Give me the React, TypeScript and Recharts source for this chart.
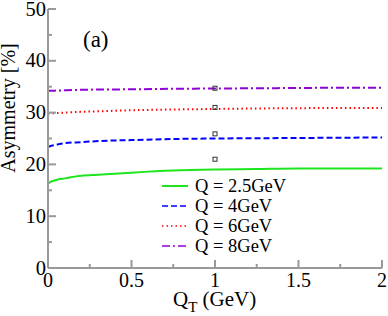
import { ComposedChart, Line, Scatter, XAxis, YAxis } from 'recharts';

// Q_T (GeV) sample points and asymmetry [%]
const qt = [0, 0.02, 0.05, 0.1, 0.2, 0.3, 0.5, 0.75, 1, 1.25, 1.5, 1.75, 2];
const q25 = [16.3, 16.7, 17.0, 17.3, 17.8, 18.0, 18.4, 18.8, 19.0, 19.1, 19.2, 19.2, 19.2];
const q4 = [23.4, 23.6, 23.8, 24.1, 24.3, 24.5, 24.7, 24.9, 25.0, 25.05, 25.1, 25.15, 25.2];
const q6 = [29.8, 29.85, 29.9, 30.0, 30.15, 30.25, 30.45, 30.6, 30.7, 30.8, 30.85, 30.9, 30.9];
const q8 = [34.2, 34.2, 34.25, 34.3, 34.4, 34.45, 34.5, 34.6, 34.65, 34.7, 34.75, 34.8, 34.8];

// open squares at Q_T = 1
const markX = [1, 1, 1, 1];
const markY = [34.7, 31.0, 25.9, 21.0];

const seriesNames = ['Q = 2.5GeV', 'Q = 4GeV', 'Q = 6GeV', 'Q = 8GeV'];
const xTicks = [0, 0.25, 0.5, 0.75, 1, 1.25, 1.5, 1.75, 2];
const yTicks = [0, 5, 10, 15, 20, 25, 30, 35, 40, 45, 50];

const toRows = (ys: number[]) => qt.map((x, i) => ({ x, y: ys[i] }));

const series = [
  { name: seriesNames[0], data: toRows(q25), color: '#1ee61e', dash: undefined },
  { name: seriesNames[1], data: toRows(q4), color: '#0000ff', dash: '6 3' },
  { name: seriesNames[2], data: toRows(q6), color: '#ff0000', dash: '1.5 3' },
  { name: seriesNames[3], data: toRows(q8), color: '#9400d3', dash: '8 3 2 3' },
];

const marks = markX.map((x, i) => ({ x, y: markY[i] }));

const FONT = '"Liberation Serif", "Times New Roman", serif';
const AXIS = '#999999';

const isMajorX = (v: number) => Math.abs(v * 2 - Math.round(v * 2)) < 1e-6;
const isMajorY = (v: number) => v % 10 === 0;

function BottomTick({ x, y, payload }: any) {
  const major = isMajorX(payload.value);
  return (
    <g>
      <line x1={x} x2={x} y1={y} y2={y - (major ? 8 : 4)} stroke={AXIS} strokeWidth={2} />
      {major && (
        <text x={x} y={y + 19} textAnchor="middle" fontSize={20} fontFamily={FONT} fill="#000">
          {String(payload.value)}
        </text>
      )}
    </g>
  );
}

function TopTick({ x, y, payload }: any) {
  const major = isMajorX(payload.value);
  return <line x1={x} x2={x} y1={y} y2={y + (major ? 8 : 4)} stroke={AXIS} strokeWidth={2} />;
}

function LeftTick({ x, y, payload }: any) {
  const major = isMajorY(payload.value);
  return (
    <g>
      <line x1={x} x2={x + (major ? 8 : 4)} y1={y} y2={y} stroke={AXIS} strokeWidth={2} />
      {major && (
        <text x={x - 2} y={y + 6.5} textAnchor="end" fontSize={20.5} fontFamily={FONT} fill="#000">
          {String(payload.value)}
        </text>
      )}
    </g>
  );
}

function RightTick({ x, y, payload }: any) {
  const major = isMajorY(payload.value);
  return <line x1={x} x2={x - (major ? 8 : 4)} y1={y} y2={y} stroke={AXIS} strokeWidth={2} />;
}

const OpenSquare = ({ cx, cy }: any) => (
  <rect x={cx - 2} y={cy - 2} width={4} height={4} fill="none" stroke="#333" strokeWidth={1} />
);

export default function App() {
  return (
    <div style={{ position: 'absolute', left: 0, top: 0 }}>
      <ComposedChart width={388} height={316} margin={{ top: 9, right: 6, bottom: 0, left: 0 }}>
        <XAxis
          xAxisId="b"
          type="number"
          dataKey="x"
          domain={[0, 2]}
          ticks={xTicks}
          interval={0}
          height={48}
          tickSize={0}
          tickMargin={0}
          tick={<BottomTick />}
          axisLine={{ stroke: AXIS, strokeWidth: 2 }}
          allowDataOverflow
        />
        <XAxis
          xAxisId="t"
          orientation="top"
          type="number"
          dataKey="x"
          domain={[0, 2]}
          ticks={xTicks}
          interval={0}
          height={0}
          tickSize={0}
          tickMargin={0}
          tick={<TopTick />}
          axisLine={{ stroke: AXIS, strokeWidth: 2 }}
          allowDataOverflow
        />
        <YAxis
          yAxisId="l"
          type="number"
          domain={[0, 50]}
          ticks={yTicks}
          interval={0}
          width={48}
          tickSize={0}
          tickMargin={0}
          tick={<LeftTick />}
          axisLine={{ stroke: AXIS, strokeWidth: 2 }}
          allowDataOverflow
        />
        <YAxis
          yAxisId="r"
          orientation="right"
          type="number"
          domain={[0, 50]}
          ticks={yTicks}
          interval={0}
          width={0}
          tickSize={0}
          tickMargin={0}
          tick={<RightTick />}
          axisLine={{ stroke: AXIS, strokeWidth: 2 }}
          allowDataOverflow
        />
        {series.map((s) => (
          <Line
            key={s.name}
            xAxisId="b"
            yAxisId="l"
            data={s.data}
            dataKey="y"
            name={s.name}
            type="monotone"
            stroke={s.color}
            strokeWidth={2}
            strokeDasharray={s.dash}
            dot={false}
            activeDot={false}
            isAnimationActive={false}
          />
        ))}
        <Scatter
          xAxisId="b"
          yAxisId="l"
          data={marks}
          dataKey="y"
          shape={<OpenSquare />}
          isAnimationActive={false}
        />
        <text x={83} y={47} fontSize={23} fontFamily={FONT} fill="#000">
          (a)
        </text>
        <g fontFamily={FONT} fontSize={18.5} fill="#000">
          {series.map((s, i) => (
            <g key={s.name}>
              <line
                x1={162}
                x2={188}
                y1={186 + i * 20}
                y2={186 + i * 20}
                stroke={s.color}
                strokeWidth={s.dash ? 1.5 : 2}
                strokeDasharray={s.dash}
              />
              <text x={195} y={192 + i * 20}>
                {s.name}
              </text>
            </g>
          ))}
        </g>
        <text x={173} y={306} fontSize={21} fontFamily={FONT} fill="#000">
          Q<tspan fontSize={15} dy={6}>T</tspan>
          <tspan dy={-6}> (GeV)</tspan>
        </text>
        <text
          x={0}
          y={0}
          transform="translate(15,108) rotate(-90)"
          textAnchor="middle"
          fontSize={20}
          fontFamily={FONT}
          fill="#000"
        >
          Asymmetry [%]
        </text>
      </ComposedChart>
    </div>
  );
}
